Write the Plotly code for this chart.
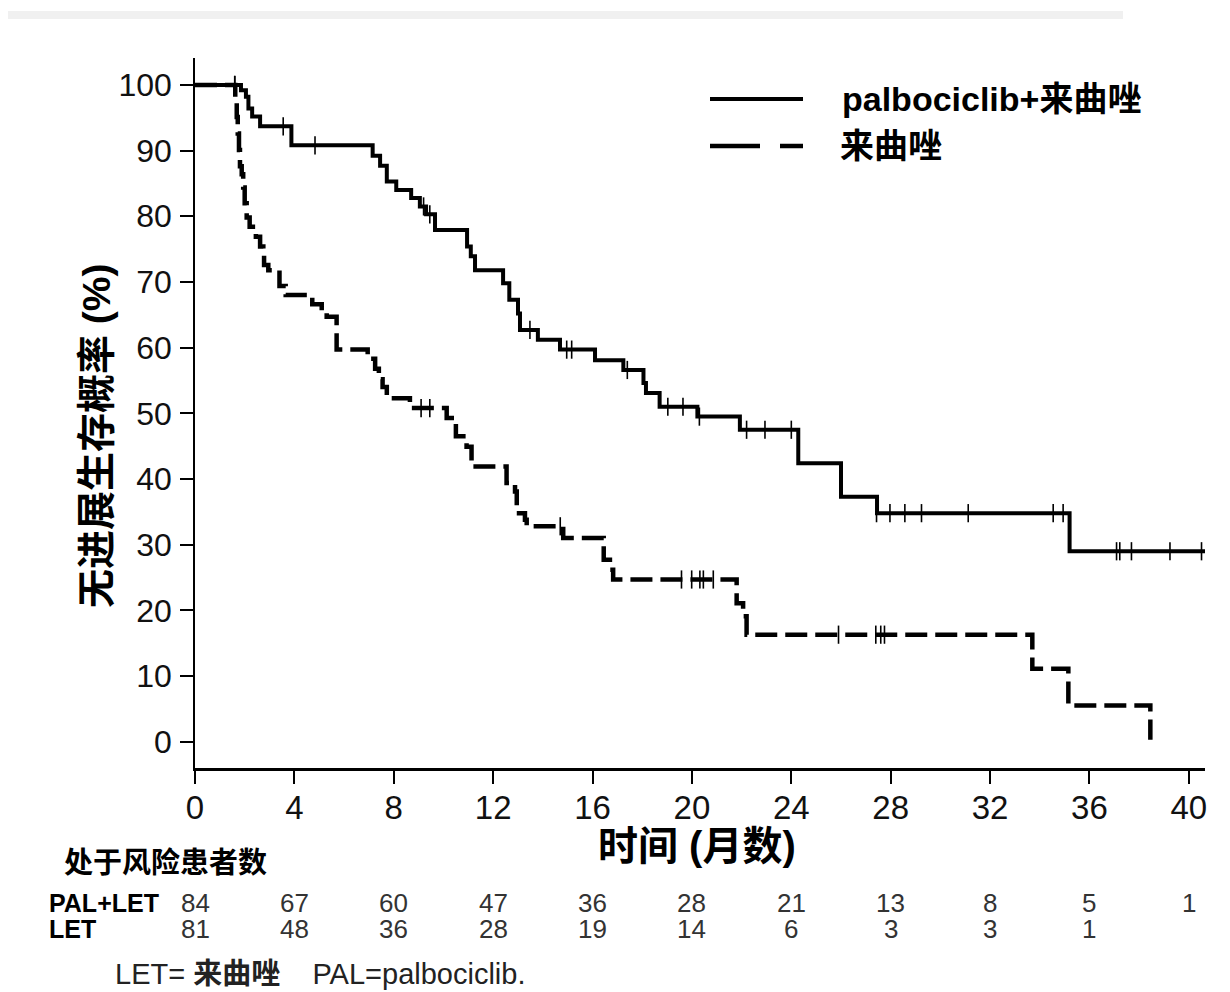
import plotly.graph_objects as go

# ---- data ----
pal_t = [0, 1.85, 2.05, 2.15, 2.3, 2.62, 3.88, 7.15, 7.45, 7.72, 8.1, 8.7, 9.05, 9.3, 9.66,
         10.95, 11.1, 11.27, 12.4, 12.65, 13.0, 13.08, 13.8, 14.69, 16.1, 17.24, 18.05, 18.15,
         18.7, 20.22, 21.93, 24.28, 26.0, 27.45, 35.2, 40.7]
pal_s = [100, 99.2, 98.2, 96.4, 95.2, 93.7, 90.8, 89.2, 87.7, 85.3, 84.0, 82.8, 81.5, 80.3, 77.9,
         75.4, 73.9, 71.8, 69.8, 67.3, 65.2, 62.7, 61.2, 59.7, 58.1, 56.6, 54.6, 53.1,
         51.0, 49.5, 47.5, 42.4, 37.3, 34.8, 29.0, 29.0]
pal_cens_t = [1.6, 3.55, 4.83, 9.2, 9.45, 13.48, 14.96, 15.16, 17.4, 19.03, 19.64, 20.3, 22.2,
              22.94, 24.0, 27.43, 27.97, 28.57, 29.24, 31.12, 34.54, 34.94, 37.09, 37.22,
              37.69, 39.24, 40.51]
pal_cens_s = [100, 93.7, 90.8, 81.5, 80.3, 62.7, 59.7, 59.7, 56.6, 51.0, 51.0, 49.5, 47.5,
              47.5, 47.5, 34.8, 34.8, 34.8, 34.8, 34.8, 34.8, 34.8, 29.0, 29.0,
              29.0, 29.0, 29.0]

let_t = [0, 1.62, 1.68, 1.72, 1.77, 1.81, 1.88, 1.94, 2.0, 2.08, 2.2, 2.45, 2.62, 2.75, 2.78,
         2.95, 3.4, 3.65, 4.72, 5.1, 5.3, 5.7, 6.95, 7.25, 7.4, 7.55, 7.72, 8.65, 10.13, 10.5,
         10.93, 11.13, 12.54, 12.88, 12.95, 13.28, 13.35, 14.82, 16.45, 16.7, 16.83, 21.8,
         22.06, 22.2, 33.7, 35.15, 38.45]
let_s = [100, 97.5, 95.1, 92.6, 90.1, 87.6, 86.4, 84.4, 82.0, 79.8, 78.4, 76.9, 75.4, 74.0, 72.6,
         71.8, 69.4, 68.0, 66.6, 65.4, 64.7, 59.7, 58.3, 56.8, 55.2, 54.0, 52.3, 50.8, 49.3, 46.5,
         44.9, 41.9, 39.4, 38.1, 34.8, 33.8, 32.8, 31.0, 27.7, 26.2, 24.7, 21.1,
         19.1, 16.3, 11.1, 5.5, 0.3]
let_cens_t = [1.6, 9.1, 9.45, 14.7, 19.58, 19.99, 20.32, 20.46, 20.86, 25.9, 27.4, 27.6, 27.75]
let_cens_s = [100, 50.8, 50.8, 32.8, 24.7, 24.7, 24.7, 24.7, 24.7, 16.3, 16.3, 16.3, 16.3]

x_ticks = [0, 4, 8, 12, 16, 20, 24, 28, 32, 36, 40]
y_ticks = [0, 10, 20, 30, 40, 50, 60, 70, 80, 90, 100]
risk_pal = [84, 67, 60, 47, 36, 28, 21, 13, 8, 5, 1]
risk_let = [81, 48, 36, 28, 19, 14, 6, 3, 3, 1, None]

FONT = "Liberation Sans, Arial, Noto Sans CJK SC, sans-serif"

fig = go.Figure()
fig.add_trace(go.Scatter(x=pal_t, y=pal_s, mode="lines", line=dict(color="black", width=4, shape="hv"),
                         showlegend=False, name="palbociclib+来曲唑"))
fig.add_trace(go.Scatter(x=let_t, y=let_s, mode="lines",
                         line=dict(color="black", width=4.5, shape="hv", dash="22px,8px"),
                         showlegend=False, name="来曲唑"))
for ct, cs in ((pal_cens_t, pal_cens_s), (let_cens_t, let_cens_s)):
    fig.add_trace(go.Scatter(x=ct, y=cs, mode="markers",
                             marker=dict(symbol="line-ns-open", size=13, color="black",
                                         line=dict(color="black", width=1.6)),
                             showlegend=False))

# page has an 8px body margin: figure origin sits at (8, 8) of the screenshot
OFF = 8
W, H = 1230 - OFF, 992 - OFF
L, T = 195 - OFF, 58 - OFF
R = W - (1205 - OFF)
B = H - (768 - OFF)
pw, ph = W - L - R, H - T - B


def px(x):
    """screenshot pixel x -> paper x"""
    return (x - OFF - L) / pw


def py(y):
    """screenshot pixel y -> paper y"""
    return (H - B - (y - OFF)) / ph


fig.update_layout(
    width=W, height=H,
    margin=dict(l=L, r=R, t=T, b=B, pad=0),
    paper_bgcolor="white", plot_bgcolor="white",
    font=dict(family=FONT, color="black"),
    xaxis=dict(range=[0, 40.65], tickvals=x_ticks, ticktext=[str(v) for v in x_ticks],
               showgrid=False, zeroline=False, showline=True, linecolor="black", linewidth=2.5,
               ticks="outside", ticklen=13, tickwidth=1.5, tickcolor="black",
               tickfont=dict(size=33, family=FONT, color="#111"), ticklabelstandoff=-4),
    yaxis=dict(range=[-4, 104.1], tickvals=y_ticks, ticktext=[str(v) for v in y_ticks],
               showgrid=False, zeroline=False, showline=True, linecolor="black", linewidth=1.5,
               ticks="outside", ticklen=13, tickwidth=1.5, tickcolor="black",
               tickfont=dict(size=32, family=FONT, color="#111"), ticklabelstandoff=2),
)

shapes = [
    # light grey strip at the top of the original image
    dict(type="rect", xref="paper", yref="paper", x0=px(8), x1=px(1123), y0=py(19), y1=py(11),
         fillcolor="#f0f0f0", line=dict(width=0), layer="below"),
    # legend samples
    dict(type="line", xref="paper", yref="paper", x0=px(710), x1=px(803), y0=py(99), y1=py(99),
         line=dict(color="black", width=4)),
    dict(type="line", xref="paper", yref="paper", x0=px(710), x1=px(803), y0=py(146), y1=py(146),
         line=dict(color="black", width=4.5, dash="50px,20px")),
]
fig.update_layout(shapes=shapes)

ann = []
ann.append(dict(text="<b>palbociclib+来曲唑</b>", x=px(840), y=py(99), xanchor="left", yanchor="middle",
                font=dict(size=34)))
ann.append(dict(text="<b>来曲唑</b>", x=px(838), y=py(146), xanchor="left", yanchor="middle",
                font=dict(size=34)))
ann.append(dict(text="<b>无进展生存概率 (%)</b>", x=px(97), y=py(436), textangle=-90,
                xanchor="center", yanchor="middle", font=dict(size=39)))
ann.append(dict(text="<b>时间 (月数)</b>", x=px(697), y=py(846), xanchor="center", yanchor="middle",
                font=dict(size=40)))
ann.append(dict(text="<b>处于风险患者数</b>", x=px(62), y=py(863), xanchor="left", yanchor="middle",
                font=dict(size=29)))
ann.append(dict(text="<b>PAL+LET</b>", x=px(47), y=py(903), xanchor="left", yanchor="middle",
                font=dict(size=25)))
ann.append(dict(text="<b>LET</b>", x=px(47), y=py(929), xanchor="left", yanchor="middle",
                font=dict(size=25)))
for t, a, b in zip(x_ticks, risk_pal, risk_let):
    ann.append(dict(text=str(a), x=t, xref="x", y=py(903), xanchor="center", yanchor="middle",
                    font=dict(size=26, color="#333")))
    if b is not None:
        ann.append(dict(text=str(b), x=t, xref="x", y=py(929), xanchor="center", yanchor="middle",
                        font=dict(size=26, color="#333")))
ann.append(dict(text="LET= <b>来曲唑</b>\u00a0\u00a0\u00a0 PAL=palbociclib.", x=px(113), y=py(974),
                xanchor="left", yanchor="middle", font=dict(size=29, color="#222")))
for a in ann:
    a.setdefault("xref", "paper")
    a.setdefault("yref", "paper")
    a["showarrow"] = False
fig.update_layout(annotations=ann)

fig.write_html("out.html")
